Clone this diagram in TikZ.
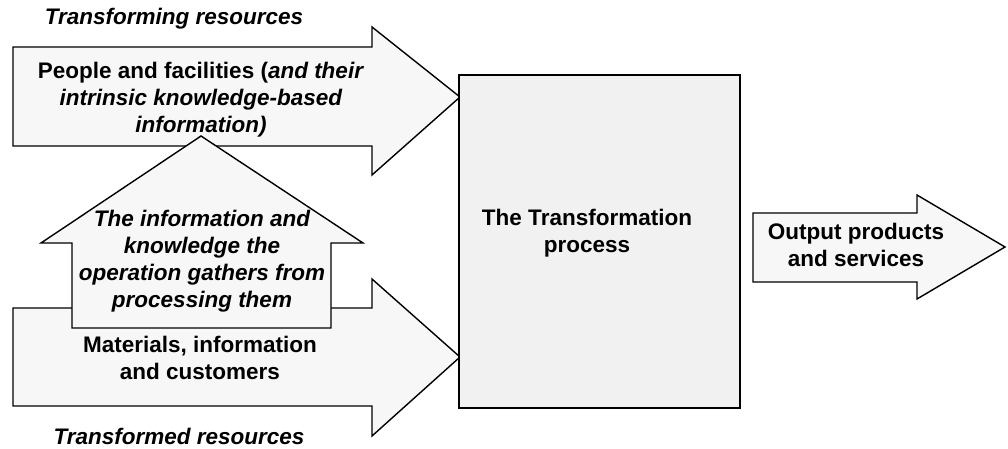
\documentclass[tikz,border=0pt]{standalone}
\usepackage{fontspec}
\setmainfont{Liberation Sans}
\usepackage{tikz}
\usetikzlibrary{calc,positioning}

\begin{document}
\begin{tikzpicture}[x=1pt, y=-1pt, lbl/.style={inner sep=0pt, align=center, font=\fontsize{22.5}{27}\selectfont\bfseries}]
\tikzstyle{blk}=[draw, line width=1.4pt, fill=gray!6, line join=miter]
\useasboundingbox (0,0) rectangle (1008,449);
% input arrows
\foreach \ya/\yb/\yc/\yd/\ym in {47/146/27/175/97, 308/406/279/436/357}{\draw[blk] (13,\ya) -- (372,\ya) -- (372,\yc) -- (460,\ym) -- (372,\yd) -- (372,\yb) -- (13,\yb) -- cycle;}
% feedback arrow
\draw[blk] (201,136) -- (363,243) -- (331,243) -- (331,328) -- (72,328) -- (72,243) -- (41,243) -- cycle;
% process box and output
\draw[blk, fill=gray!11] (459,75) rectangle (740,408);
\draw[blk] (753,213) -- (917,213) -- (917,195) -- (1005,247) -- (917,299) -- (917,282) -- (753,282) -- cycle;
\node[lbl] (trng) at (174,19) {\itshape Transforming resources};
\node[lbl] (ppl) at (201,100) {People and facilities (\textit{and their}\\\textit{intrinsic knowledge-based}\\\textit{information)}};
\node[lbl, font=\fontsize{22.5}{27}\selectfont\bfseries\itshape] (info) at (202,261) {The information and\\knowledge the\\operation gathers from\\processing them};
\node[lbl] (mat) at (200,358) {Materials, information\\and customers};
\node[lbl] (trnd) at (179,436) {\itshape Transformed resources};
\node[lbl] (proc) at (587,233) {The Transformation\\process};
\node[lbl] (out) at (856,245) {Output products\\and services};
\end{tikzpicture}
\end{document}
